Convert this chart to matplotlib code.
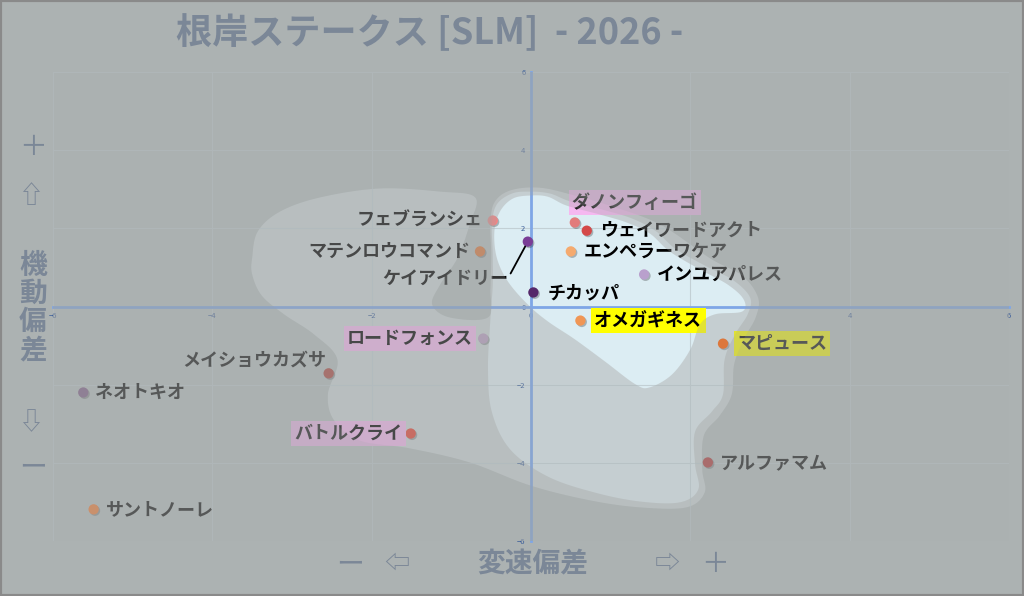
import numpy as np
import matplotlib
matplotlib.use('Agg')
import matplotlib.pyplot as plt
from matplotlib.path import Path
from matplotlib.patches import PathPatch, Rectangle
import matplotlib.patheffects as pe

plt.rcParams['font.family'] = ['Noto Sans CJK JP', 'DejaVu Sans']

# ---- データ ----
horses = ['ダノンフィーゴ', 'ウェイワードアクト', 'フェブランシェ', 'マテンロウコマンド',
          'ケイアイドリー', 'エンペラーワケア', 'インユアパレス', 'チカッパ',
          'オメガギネス', 'ロードフォンス', 'マピュース', 'メイショウカズサ',
          'ネオトキオ', 'バトルクライ', 'アルファマム', 'サントノーレ']
speed_dev = [0.55, 0.70, -0.48, -0.64, -0.04, 0.50, 1.42, 0.03,
             0.62, -0.60, 2.41, -2.54, -5.62, -1.51, 2.22, -5.49]
maneuver_dev = [2.15, 1.94, 2.20, 1.41, 1.66, 1.41, 0.82, 0.36,
                -0.36, -0.82, -0.95, -1.71, -2.20, -3.25, -3.99, -5.19]
dot_colors = ['#e27b7b', '#d44848', '#f28484', '#e8702a', '#7a3d96', '#f5aa6e',
              '#b9a0cd', '#552869', '#f09655', '#bb9ec3', '#f66510', '#b03a30',
              '#7f5985', '#e94331', '#b62c2c', '#ff7a2c']

# 分布の輪郭 (外側 / 中間 / 内側)
outer_x = [-3.50, -3.43, -3.15, -2.65, -1.90, -1.14, -0.70, -0.77, -0.92, -1.14, -1.24,
           -1.02, -0.54, -0.51, -0.50, -0.51, -0.46, -0.26, 0.11, 0.55, 0.99, 1.62,
           2.25, 2.65, 2.85, 2.82, 2.67, 2.55, 2.52, 2.37, 2.17, 2.15, 2.18, 1.95,
           1.37, 0.74, -0.01, -0.77, -1.52, -2.15, -2.47, -2.55, -2.43, -2.72, -3.10,
           -3.38, -3.50]
outer_y = [1.25, 1.92, 2.43, 2.79, 3.02, 2.94, 2.79, 2.10, 1.25, 0.56, 0.05,
           -0.28, -0.28, 0.43, 1.33, 2.10, 2.66, 2.97, 3.04, 2.84, 2.58, 2.10,
           1.23, 0.79, 0.23, -0.28, -0.84, -1.48, -2.25, -2.79, -3.30, -4.17, -4.76, -5.14,
           -5.14, -4.96, -4.58, -3.99, -3.63, -3.43, -2.92, -2.25, -1.36, -0.72, -0.20,
           0.28, 0.82]
mid_x = [-0.24, -0.01, 0.24, 0.49, 0.93, 1.27, 1.56, 1.81, 2.18, 2.54, 2.75, 2.72,
         2.56, 2.43, 2.41, 2.27, 2.06, 2.06, 2.10, 1.87, 1.37, 0.80, 0.21, -0.26,
         -0.49, -0.54, -0.51, -0.48, -0.48, -0.49, -0.43]
mid_y = [2.89, 2.94, 2.89, 2.69, 2.46, 2.25, 1.94, 1.48, 1.05, 0.67, 0.23, -0.20,
         -0.72, -1.36, -2.25, -2.69, -3.20, -4.04, -4.68, -5.01, -4.99, -4.76, -4.35, -3.66,
         -2.71, -1.61, -0.33, 0.56, 1.33, 2.10, 2.61]
inner_x = [-0.01, 0.21, 0.45, 0.87, 1.20, 1.49, 1.74, 2.12, 2.47, 2.67, 2.65, 2.31,
           2.12, 2.00, 1.77, 1.49, 1.31, 0.93, 0.55, 0.21, -0.04, -0.29, -0.43, -0.46,
           -0.39, -0.23]
inner_y = [2.84, 2.81, 2.58, 2.35, 2.15, 1.87, 1.41, 0.95, 0.56, 0.18, -0.13, -0.20,
           -0.46, -1.10, -1.74, -2.07, -1.99, -1.41, -0.84, -0.38, 0.05, 0.64, 1.25, 1.92,
           2.43, 2.76]

ticks = [-6, -4, -2, 0, 2, 4, 6]

# ---- ラベル配置 (px オフセット) ----
label_dx = [-3, 13, -10, -10, -20, 13, 13, 14, 14, -10, 14, -2, 12, -8, 12, 12]
label_dy = [20, 0, 0, 0, -37, 0, 0, 0, 0, 0, 0, 13, 0, 0, 0, 0]
label_ha = ['left', 'left', 'right', 'right', 'right', 'left', 'left', 'left',
            'left', 'right', 'left', 'right', 'left', 'right', 'left', 'left']
label_box = ['pink', None, None, None, None, None, None, None,
             'yellow', 'pink', 'yellow', None, None, 'pink', None, None]
box_colors = {'pink': '#f5b8f0', 'yellow': '#ffff00'}

# 色
base_bg = np.array([187, 196, 196]) / 255
outer_fill = np.array([205, 214, 216]) / 255
mid_fill = np.array([214, 226, 230]) / 255
inner_fill = np.array([220, 237, 243]) / 255
dim_color = np.array([160, 163, 163]) / 255
dim_alphas = [0.18, 0.21, 0.30]   # 外側 / 中間 / 内側 の外を暗くする
text_gray = '#7b8797'


def smooth_closed(xs, ys, n=14):
    p = np.column_stack([xs, ys])
    m = len(p)
    t = np.linspace(0, 1, n, endpoint=False)[:, None]
    out = []
    for i in range(m):
        p0, p1, p2, p3 = p[i - 1], p[i], p[(i + 1) % m], p[(i + 2) % m]
        out.append(0.5 * (2 * p1 + (-p0 + p2) * t + (2 * p0 - 5 * p1 + 4 * p2 - p3) * t ** 2
                          + (-p0 + 3 * p1 - 3 * p2 + p3) * t ** 3))
    return np.vstack(out)


def outside_path(poly):
    rect = np.array([[-7, -7], [7, -7], [7, 7], [-7, 7], [-7, -7]])
    area = 0.5 * np.sum(poly[:, 0] * np.roll(poly[:, 1], -1) - np.roll(poly[:, 0], -1) * poly[:, 1])
    if area > 0:
        poly = poly[::-1]
    verts = np.vstack([rect, poly, poly[:1]])
    codes = ([Path.MOVETO] + [Path.LINETO] * 3 + [Path.CLOSEPOLY]
             + [Path.MOVETO] + [Path.LINETO] * (len(poly) - 1) + [Path.CLOSEPOLY])
    return Path(verts, codes)


t_all = (1 - dim_alphas[0]) * (1 - dim_alphas[1]) * (1 - dim_alphas[2])
fig_bg = tuple(t_all * base_bg + (1 - t_all) * dim_color)

fig = plt.figure(figsize=(10.24, 5.96), dpi=100, facecolor=fig_bg)
ax = fig.add_axes([53 / 1024, 55 / 596, 956 / 1024, 469 / 596])
ax.set_facecolor(tuple(base_bg))
ax.set_xlim(-6, 6)
ax.set_ylim(-6, 6)

shapes = []
for xs, ys, col in [(outer_x, outer_y, outer_fill), (mid_x, mid_y, mid_fill),
                    (inner_x, inner_y, inner_fill)]:
    poly = smooth_closed(xs, ys)
    shapes.append(poly)
    ax.fill(poly[:, 0], poly[:, 1], color=tuple(col), lw=0, zorder=0.2)

ax.set_axisbelow(True)
ax.set_xticks(ticks)
ax.set_yticks(ticks)
ax.grid(True, color='#c3d0d5', lw=0.8)
ax.tick_params(length=0, labelsize=5.5, labelcolor='#3d5f9a', pad=4)
for s in ['top', 'right']:
    ax.spines[s].set_visible(False)
for s in ['left', 'bottom']:
    ax.spines[s].set_position(('data', 0))
    ax.spines[s].set_color('#7fa6e6')
    ax.spines[s].set_linewidth(2)

shadow = [pe.SimplePatchShadow(offset=(1, -1), shadow_rgbFace='black', alpha=0.25), pe.Normal()]
ax.scatter(speed_dev, maneuver_dev, s=55, c=dot_colors, lw=0, zorder=5, path_effects=shadow)

for i, name in enumerate(horses):
    bbox = None
    if label_box[i]:
        bbox = dict(boxstyle='square,pad=0.18', fc=box_colors[label_box[i]], ec='none')
    arrow = None
    if name == 'ケイアイドリー':
        arrow = dict(arrowstyle='-', color='black', lw=1.3, shrinkA=0, shrinkB=4,
                     relpos=(1.0, 0.5))
    ax.annotate(name, (speed_dev[i], maneuver_dev[i]), xytext=(label_dx[i], label_dy[i]),
                textcoords='offset pixels', ha=label_ha[i], va='center', fontsize=13,
                fontweight='bold', color='black', bbox=bbox, arrowprops=arrow, zorder=6)

# 内側以外を暗くする
for poly, a in zip(shapes, dim_alphas):
    ax.add_patch(PathPatch(outside_path(poly), fc=tuple(dim_color), ec='none', alpha=a, zorder=10))

fig.text(176 / 1024, 1 - 33 / 596, '根岸ステークス [SLM]  - 2026 -', ha='left', va='center',
         fontsize=26, fontweight='bold', color=text_gray)

fig.text(33 / 1024, 1 - 147 / 596, '＋', ha='center', va='center', fontsize=20, color=text_gray)
fig.text(31 / 1024, 1 - 196 / 596, '⇧', ha='center', va='center', fontsize=18, color=text_gray)
fig.text(33 / 1024, 1 - 308 / 596, '機\n動\n偏\n差', ha='center', va='center', fontsize=20,
         fontweight='bold', color=text_gray, linespacing=1.0)
fig.text(31 / 1024, 1 - 423 / 596, '⇩', ha='center', va='center', fontsize=18, color=text_gray)
fig.text(33 / 1024, 1 - 467 / 596, 'ー', ha='center', va='center', fontsize=20, color=text_gray)

fig.text(350 / 1024, 1 - 564 / 596, 'ー', ha='center', va='center', fontsize=20, color=text_gray)
fig.text(397 / 1024, 1 - 564 / 596, '⇦', ha='center', va='center', fontsize=18, color=text_gray)
fig.text(533 / 1024, 1 - 564 / 596, '変速偏差', ha='center', va='center', fontsize=20,
         fontweight='bold', color=text_gray)
fig.text(667 / 1024, 1 - 564 / 596, '⇨', ha='center', va='center', fontsize=18, color=text_gray)
fig.text(715 / 1024, 1 - 564 / 596, '＋', ha='center', va='center', fontsize=20, color=text_gray)

fig.add_artist(Rectangle((0, 0), 1, 1, transform=fig.transFigure, fill=False,
                         ec='#8a8a8a', lw=3))

fig.savefig('out.png', dpi=100, facecolor=fig_bg)
